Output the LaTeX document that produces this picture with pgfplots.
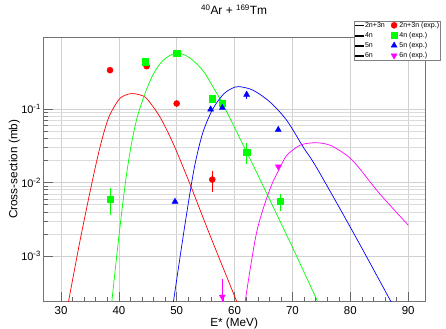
\documentclass[border=0pt]{standalone}
\usepackage{fontspec}
\setmainfont{Liberation Sans}
\usepackage{pgfplots}
\pgfplotsset{compat=1.18}
\definecolor{rootred}{RGB}{255,0,0}
\definecolor{rootgreen}{RGB}{0,255,0}
\definecolor{rootblue}{RGB}{0,0,255}
\definecolor{rootmag}{RGB}{255,0,255}
\pgfplotsset{
  curve/.style={no markers, line width=0.7pt, smooth, color=#1},
  expt/.style={only marks, color=#1, line width=0.5pt,
    error bars/y dir=both, error bars/y explicit,
    error bars/error bar style={line width=0.5pt}, error bars/error mark=none},
  redleg/.style={legend image code/.code={\fill[fill=rootred] (0bp,-0.4bp) rectangle (8bp,0.4bp);}},
  greenleg/.style={legend image code/.code={\fill[fill=rootgreen] (0bp,-0.4bp) rectangle (8bp,0.4bp);}},
  blueleg/.style={legend image code/.code={\fill[fill=rootblue] (0bp,-0.4bp) rectangle (8bp,0.4bp);}},
  magleg/.style={legend image code/.code={\fill[fill=rootmag] (0bp,-0.4bp) rectangle (8bp,0.4bp);}},
  markleg/.style={legend image code/.code={\draw[##1] plot coordinates {(3bp,0bp)};}},
}
\begin{document}
\begin{tikzpicture}
\begin{axis}[
  scale only axis, width=381.7bp, height=264.7bp,
  ymode=log, xmin=26.94, xmax=92.9, ymin=2.37e-4, ymax=0.97,
  axis line style={black!55, line width=0.6pt},
  every tick/.style={black!60, line width=0.5pt},
  xtick={30,40,...,90}, minor x tick num=4,
  ytick={1e-3,1e-2,1e-1},
  yticklabels={10\textsuperscript{-3},10\textsuperscript{-2},10\textsuperscript{-1}},
  /pgf/number format/assume math mode=true,
  xticklabel style={font=\fontsize{11.5}{13}\selectfont, yshift=-1bp},
  yticklabel style={font=\fontsize{11}{13}\selectfont, xshift=1bp},
  tick align=inside, xtick pos=lower, ytick pos=left,
  major tick length=10bp, minor tick length=5bp,
  xmajorgrids, ymajorgrids, yminorgrids,
  major grid style={black!18, line width=0.5pt},
  minor grid style={black!14, line width=0.5pt},
  xlabel={E* (MeV)}, ylabel={Cross-section (mb)},
  label style={font=\fontsize{11.8}{13}\selectfont},
  xlabel style={at={(axis description cs:0.5,-0.0944)}, anchor=base},
  ylabel style={at={(axis description cs:-0.0681,0.5)}, anchor=base},
  title={\textsuperscript{40}Ar + \textsuperscript{169}Tm},
  title style={at={(axis description cs:0.5,1.0616)}, anchor=base, font=\fontsize{12}{13}\selectfont},
  legend columns=2, legend cell align=left,
  legend style={at={(axis description cs:0.8148,1.0616)}, anchor=north west,
    font=\fontsize{7.1}{8}\selectfont, draw=black!50, fill=white, line width=0.5pt,
    inner sep=0bp, row sep=1.4bp,
    nodes={inner sep=1bp, text height=5.2bp, text depth=1.5bp},
    /tikz/every odd column/.append style={column sep=1bp},
    /tikz/every even column/.append style={column sep=5bp}},
]
\addlegendimage{redleg}
\addlegendentry{2n+3n}
\addlegendimage{markleg, rootred, only marks, mark=*, mark size=3bp}
\addlegendentry{2n+3n (exp.)}
\addlegendimage{greenleg}
\addlegendentry{4n}
\addlegendimage{markleg, rootgreen, only marks, mark=square*, mark size=3.2bp}
\addlegendentry{4n (exp.)}
\addlegendimage{blueleg}
\addlegendentry{5n}
\addlegendimage{markleg, rootblue, only marks, mark=triangle*, mark size=3.4bp}
\addlegendentry{5n (exp.)}
\addlegendimage{magleg}
\addlegendentry{6n}
\addlegendimage{markleg, rootmag, only marks, mark=triangle*, mark options={rotate=180}, mark size=3.4bp}
\addlegendentry{6n (exp.)}
% 2n+3n
\addplot[curve=rootred, forget plot] coordinates {
(31.26,2.29e-4) (33.28,1.603e-3) (35.3,9.55e-3) (36.74,0.03048) (38.2,0.07586)
(39.9,0.1327) (41.0,0.1549) (42.2,0.1641) (43.5,0.1585) (44.8,0.1403)
(47.1,0.07852) (49.4,0.03388) (52.29,9.55e-3) (55.45,2.188e-3) (60.35,2.40e-4) (61.0,1.78e-4)};
% 4n
\addplot[curve=rootgreen, forget plot] coordinates {
(38.76,2.29e-4) (39.6,9.55e-4) (40.45,3.715e-3) (41.3,0.01259) (42.2,0.03467)
(43.2,0.07943) (44.51,0.1641) (45.95,0.3020) (47.67,0.4688) (49.99,0.5902)
(52.29,0.5012) (54.6,0.3311) (56.3,0.1995) (57.87,0.1219) (60.0,0.05623)
(62.08,0.0260) (63.8,0.01380) (69.86,1.380e-3) (74.45,2.29e-4)};
% 5n
\addplot[curve=rootblue, forget plot] coordinates {
(49.4,2.29e-4) (50.6,1.0e-3) (51.8,4.169e-3) (53.1,0.01698) (54.5,0.04786)
(56.2,0.1) (58.0,0.1585) (59.4,0.1905) (60.7,0.2042) (63.2,0.1820) (66.1,0.1259)
(69.0,0.07079) (71.86,0.03048) (74.2,0.01585) (80.5,2.089e-3) (87.13,2.29e-4)};
% 6n
\addplot[curve=rootmag, forget plot] coordinates {
(61.79,2.29e-4) (63.8,2.089e-3) (66.1,8.128e-3) (67.9,0.01622) (69.0,0.02344)
(71.3,0.03236) (73.9,0.03499) (76.5,0.03236) (79.4,0.02344) (81.3,0.01660)
(85.1,7.0e-3) (90.0,2.63e-3)};
% experimental points
\addplot[expt=rootred, mark=*, mark size=3bp, forget plot] coordinates {
(38.47,0.342) +- (0,0) (44.8,0.388) +- (0,0) (49.99,0.120) +- (0,0) (56.14,0.0110) +- (0,0.0036)};
\addplot[expt=rootgreen, mark=square*, mark size=3.2bp, forget plot] coordinates {
(38.47,0.00598) +- (0,0.0024) (44.51,0.445) +- (0,0) (49.99,0.579) +- (0,0)
(56.14,0.140) +- (0,0) (57.87,0.122) +- (0,0) (62.08,0.0260) +- (0,0.0083)
(67.84,0.00554) +- (0,0.0014)};
\addplot[expt=rootblue, mark=triangle*, mark size=3.4bp, forget plot] coordinates {
(49.7,0.0055) +- (0,0) (55.86,0.100) +- (0,0) (57.87,0.105) +- (0,0)
(62.08,0.159) +- (0,0.02) (67.54,0.0527) +- (0,0)};
\addplot[expt=rootmag, mark=triangle*, mark options={rotate=180}, mark size=3.4bp, forget plot] coordinates {
(67.54,0.0166) +- (0,0) (57.87,2.77e-4) +- (0,2.12e-4)};
\end{axis}
\pgfresetboundingbox
\path ([shift={(-43.3bp,-27.3bp)}]current axis.south west) rectangle ([shift={(21bp,37bp)}]current axis.north east);
\end{tikzpicture}
\end{document}
